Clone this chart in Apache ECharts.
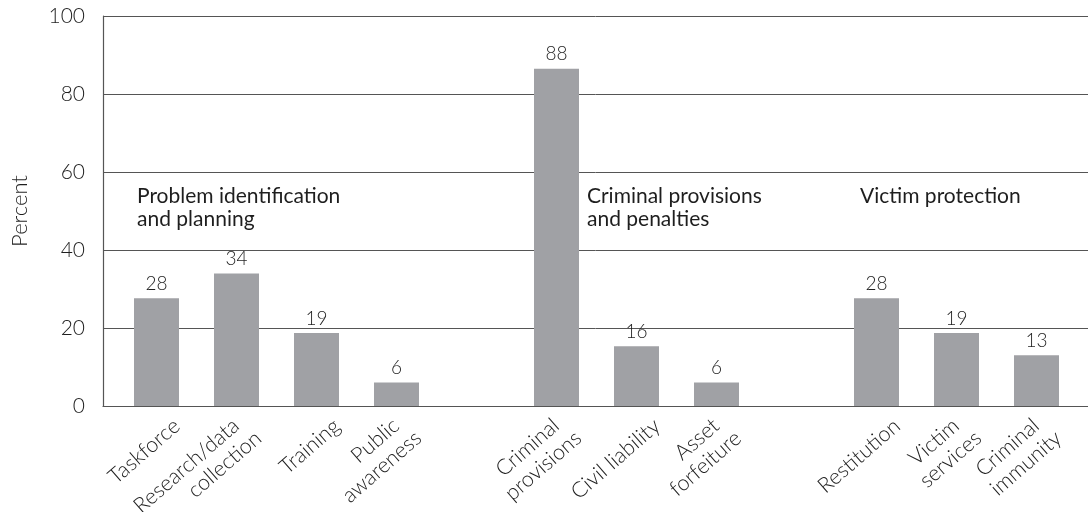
<!DOCTYPE html>
<html>
<head>
<meta charset="utf-8">
<script src="https://cdn.jsdelivr.net/npm/echarts@6/dist/echarts.min.js"></script>
<style>
html,body{margin:0;padding:0;background:#fff;}
#chart{width:1088px;height:512px;}
</style>
</head>
<body>
<div id="chart"></div>
<script>
var categories = ['Taskforce', 'Research/data\ncollection', 'Training', 'Public\nawareness', '',
  'Criminal\nprovisions', 'Civil liability', 'Asset\nforfeiture', '',
  'Restitution', 'Victim\nservices', 'Criminal\nimmunity'];
var values = [27.6, 34, 18.7, 6, null, 86.5, 15.3, 6, null, 27.6, 18.7, 13];
var valueLabels = ['28', '34', '19', '6', '', '88', '16', '6', '', '28', '19', '13'];
var yTicks = [0, 20, 40, 60, 80, 100];
var groupTitles = ['Problem identification\nand planning', 'Criminal provisions\nand penalties', 'Victim protection'];

var FONT = 'Lato';
var TXT = '#1e1e1e';
var chart = echarts.init(document.getElementById('chart'), null, {renderer: 'canvas'});
var gTop = 16, gBottom = 106;
chart.setOption({
  animation: false,
  backgroundColor: '#fff',
  textStyle: {fontFamily: FONT},
  grid: [
    {left: 103, right: 0, top: gTop, bottom: gBottom},
    {left: 116.5, right: 11.5, top: gTop, bottom: gBottom}
  ],
  xAxis: [
    {gridIndex: 0, type: 'value', min: 0, max: 1, show: true,
      axisLine: {show: true, lineStyle: {color: '#555', width: 1.2}},
      axisTick: {show: false}, axisLabel: {show: false}, splitLine: {show: false}},
    {gridIndex: 1, type: 'category', data: categories,
      axisLine: {show: false}, axisTick: {show: false}, axisLabel: {show: false}}
  ],
  yAxis: [
    {gridIndex: 0, type: 'value', min: 0, max: 100, interval: 20,
      name: 'Percent', nameLocation: 'middle', nameGap: 72, nameRotate: 90,
      nameTextStyle: {fontSize: 22, fontWeight: 300, color: TXT, fontFamily: FONT},
      axisLine: {show: true, lineStyle: {color: '#555', width: 1.2}},
      axisTick: {show: false},
      axisLabel: {margin: 18, fontSize: 21, fontWeight: 300, color: TXT, fontFamily: FONT,
        formatter: function (v) { return yTicks.indexOf(v) >= 0 ? String(v) : ''; }},
      splitLine: {show: true, lineStyle: {color: '#555', width: 1}}},
    {gridIndex: 1, type: 'value', min: 0, max: 100, interval: 20, show: false}
  ],
  series: [{
    type: 'bar', xAxisIndex: 1, yAxisIndex: 1,
    data: values, barWidth: 45,
    itemStyle: {color: '#a0a1a5'},
    label: {show: true, position: 'top', distance: 5, fontSize: 19, fontWeight: 300,
      color: TXT, fontFamily: FONT,
      formatter: function (p) { return valueLabels[p.dataIndex]; }}
  }]
});

// Rotated category labels, anchored to the category axis positions
var ANG = 41 * Math.PI / 180;
var ux = Math.cos(ANG), uy = -Math.sin(ANG);
var nx = Math.sin(ANG), ny = Math.cos(ANG);
var baseY = chart.convertToPixel({yAxisIndex: 1}, 0);
var graphics = [];
var titleLefts = [137, 587, 860];
groupTitles.forEach(function (t, i) {
  graphics.push({type: 'text', left: titleLefts[i], top: 185,
    style: {text: t, font: '400 21px Lato', fill: TXT, lineHeight: 23}});
});
categories.forEach(function (c, i) {
  if (!c) return;
  var cx = chart.convertToPixel({xAxisIndex: 1}, i);
  var ax = cx + 20.5, ay = baseY + 17;
  var lines = c.split('\n');
  var offs = lines.length === 1 ? [[0, 0]] : [[-14, -15.5], [10, -7]];
  lines.forEach(function (l, k) {
    var o = offs[k];
    graphics.push({
      type: 'text',
      x: ax + o[0] * nx + o[1] * ux,
      y: ay + o[0] * ny + o[1] * uy,
      rotation: ANG,
      style: {text: l, font: '300 21.5px Lato', fill: TXT, align: 'right', verticalAlign: 'middle'}
    });
  });
});
chart.setOption({graphic: graphics});
</script>
</body>
</html>
